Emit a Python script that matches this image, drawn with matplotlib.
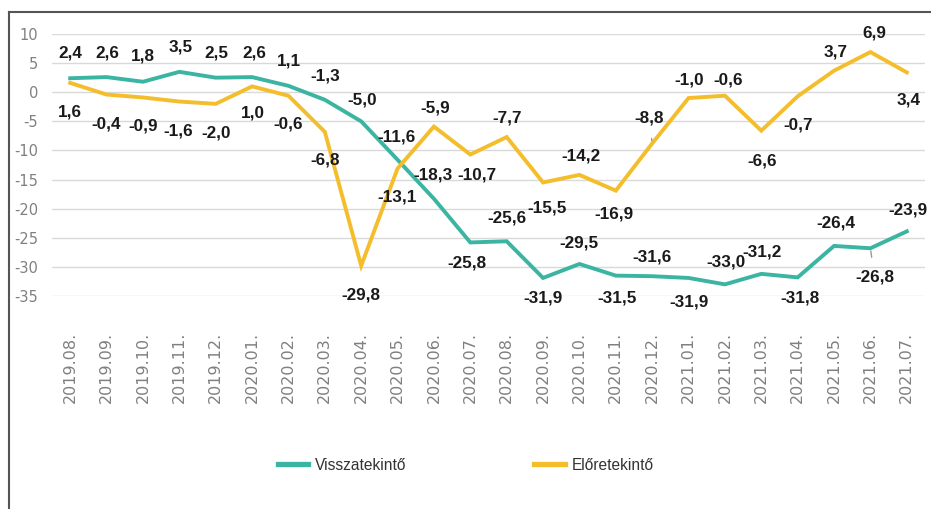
import matplotlib
matplotlib.use("Agg")
import matplotlib.pyplot as plt
from matplotlib.lines import Line2D

categories = ["2019.08.", "2019.09.", "2019.10.", "2019.11.", "2019.12.", "2020.01.",
              "2020.02.", "2020.03.", "2020.04.", "2020.05.", "2020.06.", "2020.07.",
              "2020.08.", "2020.09.", "2020.10.", "2020.11.", "2020.12.", "2021.01.",
              "2021.02.", "2021.03.", "2021.04.", "2021.05.", "2021.06.", "2021.07."]
vissza = [2.4, 2.6, 1.8, 3.5, 2.5, 2.6, 1.1, -1.3, -5.0, -11.6, -18.3, -25.8,
          -25.6, -31.9, -29.5, -31.5, -31.6, -31.9, -33.0, -31.2, -31.8, -26.4, -26.8, -23.9]
elore = [1.6, -0.4, -0.9, -1.6, -2.0, 1.0, -0.6, -6.8, -29.8, -13.1, -5.9, -10.7,
         -7.7, -15.5, -14.2, -16.9, -8.8, -1.0, -0.6, -6.6, -0.7, 3.7, 6.9, 3.4]
series_names = ["Visszatekintő", "Előretekintő"]
yticks = [10, 5, 0, -5, -10, -15, -20, -25, -30, -35]

# label offsets (pixels) - layout only
v_off = [(0, 25), (1, 24), (0, 26), (1, 25), (1, 25), (2, 24), (0, 25), (0, 24), (1, 21),
         (-1, 23), (-1, 24), (-3, -21), (0, 23), (0, -20), (0, 21), (1, -22), (0, 19),
         (0, -24), (1, 22), (1, 22), (2, -21), (2, 23), (4, -29), (1, 21)]
e_off = [(0, -29), (0, -29), (0, -29), (-1, -29), (0, -29), (1, -27), (0, -28), (0, -28),
         (0, -29), (-1, -29), (1, 19), (7, -20), (0, 19), (4, -26), (1, 19), (-2, -23),
         (-3, 25), (1, 18), (3, 16), (1, -30), (0, -29), (2, 19), (4, 19), (2, -28)]
v_leader = {22}
e_leader = {16}

TEAL = "#3BB5A2"
YELLOW = "#F4BD2B"

fig = plt.figure(figsize=(9.31, 5.09), dpi=100)
W, H = 931, 509
ax = fig.add_axes([52 / W, 1 - 296 / H, 873 / W, 262 / H])

x = list(range(len(categories)))
ax.plot(x, vissza, color=TEAL, lw=2.8, solid_joinstyle="miter", zorder=3)
ax.plot(x, elore, color=YELLOW, lw=2.8, solid_joinstyle="miter", zorder=3)

ax.set_xlim(-0.5, len(categories) - 0.5)
ax.set_ylim(-35, 10)
ax.set_yticks(yticks)
ax.set_yticklabels([str(t) for t in yticks])
ax.set_xticks(x)
ax.set_xticklabels(categories, rotation=90)
ax.grid(axis="y", color="#d9d9d9", lw=1.0)
ax.set_axisbelow(True)
for s in ax.spines.values():
    s.set_visible(False)
ax.tick_params(axis="both", length=0)
ax.tick_params(axis="y", pad=10, labelsize=10.5, labelcolor="#808080")
ax.tick_params(axis="x", pad=26, labelsize=11.5, labelcolor="#808080")


def fmt(v):
    return f"{v:.1f}".replace(".", ",")


lab_kw = dict(ha="center", va="center", fontsize=12.3, fontweight="bold",
              color="#1a1a1a", family=["Liberation Sans", "DejaVu Sans"], zorder=5)
for vals, offs, leaders in ((vissza, v_off, v_leader), (elore, e_off, e_leader)):
    for i, v in enumerate(vals):
        dx, dy = offs[i]
        if i in leaders:
            ax.annotate(fmt(v), (i, v), xytext=(dx, dy), textcoords="offset pixels",
                        arrowprops=dict(arrowstyle="-", color="#999999", lw=1,
                                        shrinkA=7, shrinkB=2), **lab_kw)
        else:
            ax.annotate(fmt(v), (i, v), xytext=(dx, dy), textcoords="offset pixels", **lab_kw)

handles = [Line2D([], [], color=TEAL, lw=3.8), Line2D([], [], color=YELLOW, lw=3.8)]
fig.legend(handles, series_names, loc="center", bbox_to_anchor=(466 / W, 1 - 465 / H),
           ncol=2, frameon=False, handlelength=1.96, handletextpad=0.46, columnspacing=8.2,
           prop=dict(family=["Liberation Sans"], size=11.2),
           labelcolor="#333333")

# outer frame (left and top edges)
fig.add_artist(Line2D([9 / W, 9 / W], [0, 1 - 12 / H], color="#555555", lw=1.5,
                      transform=fig.transFigure))
fig.add_artist(Line2D([9 / W, 1], [1 - 12 / H, 1 - 12 / H], color="#555555", lw=1.5,
                      transform=fig.transFigure))

fig.savefig("out.png", dpi=100)
